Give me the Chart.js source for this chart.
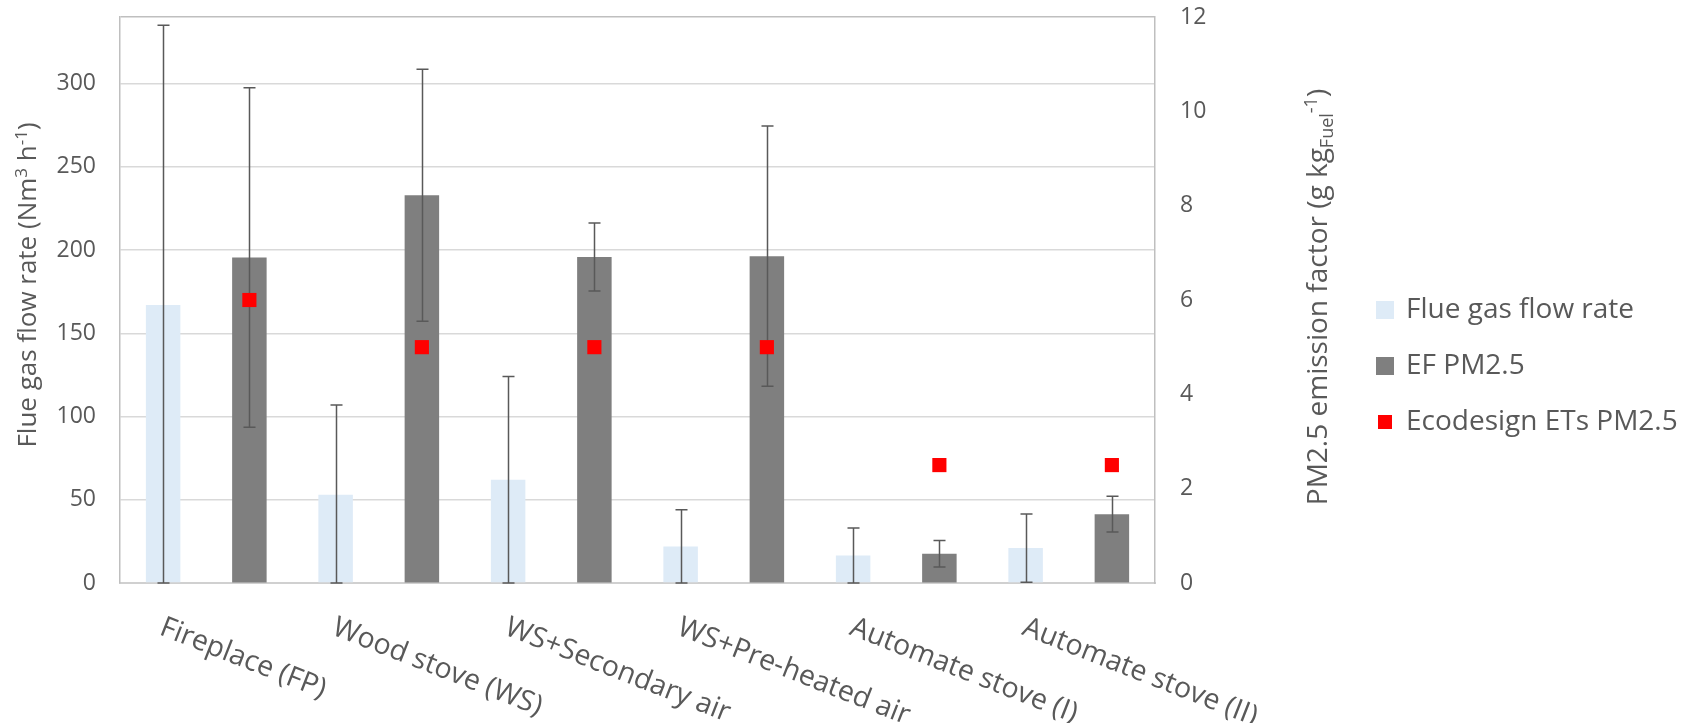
<!DOCTYPE html>
<html>
<head>
<meta charset="utf-8">
<script src="https://cdn.jsdelivr.net/npm/chart.js@4.4.1/dist/chart.umd.min.js"></script>
<style>
  html, body { margin: 0; padding: 0; background: #fff; }
  #wrap { width: 1692px; height: 723px; position: relative; }
</style>
</head>
<body>
<div id="wrap"><canvas id="emissionChart"></canvas></div>
<script>
// Data
const categories = ['Fireplace (FP)', 'Wood stove (WS)', 'WS+Secondary air', 'WS+Pre-heated air', 'Automate stove (I)', 'Automate stove (II)'];
const flueGas = [167, 53, 62, 22, 16.5, 21];
const flueGasErr = [168, 54, 62, 22, 16.5, 20.5];
const efPm = [6.9, 8.22, 6.91, 6.93, 0.62, 1.46];
const efPmErr = [3.6, 2.67, 0.72, 2.76, 0.28, 0.38];
const ecodesign = [6, 5, 5, 5, 2.5, 2.5];
const leftTicks = [0, 50, 100, 150, 200, 250, 300, 340];
const rightTicks = [0, 2, 4, 6, 8, 10, 12];
const seriesNames = ['Flue gas flow rate', 'EF PM2.5', 'Ecodesign ETs PM2.5'];

const textColor = '#595959';
const fontFamily = '"Open Sans", "DejaVu Sans", sans-serif';
const legendFontSize = 28;

Chart.defaults.font.family = fontFamily;
Chart.defaults.color = textColor;

// each category is split in two slots: left = flue gas, right = EF PM2.5
const slotLabels = categories.flatMap(c => [c + ' | flow', c + ' | EF']);
const leftSlot = arr => arr.flatMap(v => [v, null]);
const rightSlot = arr => arr.flatMap(v => [null, v]);

// error bars per dataset index
const errorSets = { 0: leftSlot(flueGasErr), 1: rightSlot(efPmErr) };

// Utility functions
function legendSwatch(color, size) {
    const c = document.createElement('canvas');
    c.width = size;
    c.height = size;
    const g = c.getContext('2d');
    g.fillStyle = color;
    g.fillRect(0, 0, size, size);
    return c;
}

function drawRichText(ctx, parts, x, y, size) {
    // parts: [text, kind] with kind '', 'sup' or 'sub'
    const small = Math.round(size * 0.65);
    const fontFor = p => (p[1] ? small : size) + 'px ' + fontFamily;
    const total = parts.reduce((s, p) => {
        ctx.font = fontFor(p);
        return s + ctx.measureText(p[0]).width;
    }, 0);
    let cx = x - total / 2;
    parts.forEach(p => {
        ctx.font = fontFor(p);
        let dy = 0;
        if (p[1] === 'sup') dy = -size * 0.36;
        if (p[1] === 'sub') dy = size * 0.2;
        ctx.fillText(p[0], cx, y + dy);
        cx += ctx.measureText(p[0]).width;
    });
}

// legend placement
const legendPad = 28;
const legendLeft = 1350;
const measureCtx = document.createElement('canvas').getContext('2d');
measureCtx.font = legendFontSize + 'px ' + fontFamily;
const legendTextW = Math.max(...seriesNames.map(t => measureCtx.measureText(t).width));
const legendWidth = legendPad + 14 + legendFontSize / 2 + legendTextW + 10;
const padRight = Math.max(0, 1692 - legendLeft - legendWidth);

const errorBarPlugin = {
    id: 'errorBars',
    afterDatasetDraw(chart, args) {
        const errs = errorSets[args.index];
        if (!errs) return;
        const meta = args.meta;
        const scale = chart.scales[meta.yAxisID];
        const values = chart.data.datasets[args.index].data;
        const ctx = chart.ctx;
        ctx.save();
        ctx.strokeStyle = '#595959';
        ctx.lineWidth = 1.5;
        meta.data.forEach((bar, i) => {
            if (values[i] === null) return;
            const top = scale.getPixelForValue(values[i] + errs[i]);
            const bottom = scale.getPixelForValue(Math.max(values[i] - errs[i], scale.min));
            const x = Math.round(bar.x) + 0.5;
            ctx.beginPath();
            ctx.moveTo(x, top);
            ctx.lineTo(x, bottom);
            ctx.moveTo(x - 6, top);
            ctx.lineTo(x + 6, top);
            ctx.moveTo(x - 6, bottom);
            ctx.lineTo(x + 6, bottom);
            ctx.stroke();
        });
        ctx.restore();
    }
};

const textPlugin = {
    id: 'axisTexts',
    afterDraw(chart) {
        const ctx = chart.ctx;
        const xScale = chart.scales.x;
        ctx.save();
        ctx.fillStyle = textColor;
        ctx.textBaseline = 'alphabetic';
        ctx.textAlign = 'left';

        // slanted category labels
        ctx.font = '28.5px ' + fontFamily;
        categories.forEach((label, i) => {
            const mid = (xScale.getPixelForValue(2 * i) + xScale.getPixelForValue(2 * i + 1)) / 2;
            ctx.save();
            ctx.translate(mid - 48, 634);
            ctx.rotate(21.5 * Math.PI / 180);
            ctx.fillText(label, 0, 0);
            ctx.restore();
        });

        // left axis title
        ctx.save();
        ctx.translate(36, 285);
        ctx.rotate(-Math.PI / 2);
        drawRichText(ctx, [['Flue gas flow rate (Nm', ''], ['3', 'sup'], [' h', ''], ['-1', 'sup'], [')', '']], 0, 0, 26);
        ctx.restore();

        // right axis title
        ctx.save();
        ctx.translate(1327, 297);
        ctx.rotate(-Math.PI / 2);
        drawRichText(ctx, [['PM2.5 emission factor (g kg', ''], ['Fuel', 'sub'], ['-1', 'sup'], [')', '']], 0, 0, 28);
        ctx.restore();

        ctx.restore();
    }
};

function initEmissionChart() {
    const ctx = document.getElementById('emissionChart').getContext('2d');

    new Chart(ctx, {
        type: 'bar',
        data: {
            labels: slotLabels,
            datasets: [{
                label: seriesNames[0],
                data: leftSlot(flueGas),
                backgroundColor: '#DEEBF7',
                yAxisID: 'y',
                grouped: false,
                order: 2,
                categoryPercentage: 1.0,
                barPercentage: 0.4
            }, {
                label: seriesNames[1],
                data: rightSlot(efPm),
                backgroundColor: '#7F7F7F',
                yAxisID: 'y2',
                grouped: false,
                order: 1,
                categoryPercentage: 1.0,
                barPercentage: 0.4
            }, {
                type: 'line',
                label: seriesNames[2],
                data: rightSlot(ecodesign),
                yAxisID: 'y2',
                showLine: false,
                pointStyle: 'rect',
                pointRadius: 10,
                pointHoverRadius: 10,
                pointBorderWidth: 0,
                backgroundColor: '#FF0000',
                borderColor: '#FF0000',
                order: 0
            }]
        },
        options: {
            responsive: true,
            maintainAspectRatio: false,
            animation: false,
            layout: {
                padding: { top: 17, right: padRight, left: 0, bottom: 8 }
            },
            plugins: {
                tooltip: { enabled: false },
                legend: {
                    position: 'right',
                    align: 'center',
                    maxWidth: 500,
                    labels: {
                        usePointStyle: true,
                        boxWidth: 14,
                        padding: legendPad,
                        color: textColor,
                        font: { size: legendFontSize },
                        generateLabels: () => [
                            { text: seriesNames[0], pointStyle: legendSwatch('#DEEBF7', 18), fillStyle: '#DEEBF7', lineWidth: 0, hidden: false, datasetIndex: 0, fontColor: textColor },
                            { text: seriesNames[1], pointStyle: legendSwatch('#7F7F7F', 18), fillStyle: '#7F7F7F', lineWidth: 0, hidden: false, datasetIndex: 1, fontColor: textColor },
                            { text: seriesNames[2], pointStyle: legendSwatch('#FF0000', 14), fillStyle: '#FF0000', lineWidth: 0, hidden: false, datasetIndex: 2, fontColor: textColor }
                        ]
                    }
                }
            },
            scales: {
                x: {
                    offset: true,
                    ticks: { display: false },
                    grid: { drawOnChartArea: false, drawTicks: false },
                    border: { display: true, color: '#D0D0D0', width: 2 },
                    afterFit: scale => { scale.height = 132; }
                },
                y: {
                    position: 'left',
                    min: 0,
                    max: 340,
                    afterBuildTicks: scale => { scale.ticks = leftTicks.map(v => ({ value: v })); },
                    ticks: {
                        padding: 0,
                        font: { size: 23 },
                        color: textColor,
                        callback: v => (v % 50 === 0 ? v : '')
                    },
                    grid: {
                        drawTicks: true,
                        tickLength: 24,
                        tickColor: 'rgba(0,0,0,0)',
                        lineWidth: 1.5,
                        color: c => (c.tick && c.tick.value === 340 ? '#BFBFBF' : '#D9D9D9')
                    },
                    border: { display: true, color: '#BFBFBF', width: 1.5 },
                    afterFit: scale => { scale.width = 120; }
                },
                y2: {
                    position: 'right',
                    min: 0,
                    max: 12,
                    afterBuildTicks: scale => { scale.ticks = rightTicks.map(v => ({ value: v })); },
                    ticks: {
                        padding: 0,
                        font: { size: 23 },
                        color: textColor
                    },
                    grid: {
                        drawOnChartArea: false,
                        drawTicks: true,
                        tickLength: 25,
                        tickColor: 'rgba(0,0,0,0)'
                    },
                    border: { display: true, color: '#BFBFBF', width: 1.5 },
                    afterFit: scale => { scale.width = legendLeft - 1155; }
                }
            }
        },
        plugins: [errorBarPlugin, textPlugin]
    });
}

document.addEventListener('DOMContentLoaded', () => {
    initEmissionChart();
});
</script>
</body>
</html>
